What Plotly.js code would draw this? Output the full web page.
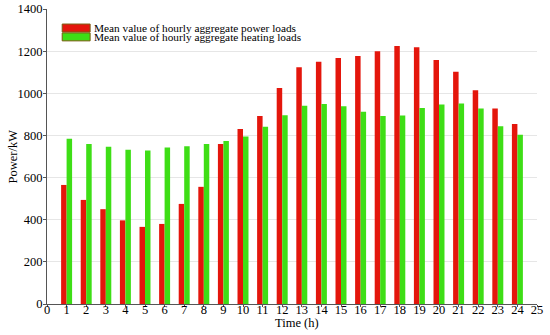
<!DOCTYPE html>
<html><head><meta charset="utf-8">
<script src="https://cdn.plot.ly/plotly-3.0.1.min.js"></script>
<style>html,body{margin:0;padding:0;background:#fff}</style>
</head><body><div id="chart" style="width:550px;height:335px"></div>
<script>
const hours = [1,2,3,4,5,6,7,8,9,10,11,12,13,14,15,16,17,18,19,20,21,22,23,24];
const powerLoads = [565,494,450,397,366,380,475,556,759,830,892,1025,1123,1150,1167,1177,1200,1224,1218,1158,1102,1015,928,854];
const heatingLoads = [784,759,746,732,728,743,749,759,773,795,841,896,941,949,938,912,892,895,930,947,952,928,843,803];
const xTicks = [0,1,2,3,4,5,6,7,8,9,10,11,12,13,14,15,16,17,18,19,20,21,22,23,24,25];
const yTicks = [0,200,400,600,800,1000,1200,1400];
const seriesNames = ['Mean value of hourly aggregate power loads','Mean value of hourly aggregate heating loads'];
const seriesColors = ['rgb(228,22,12)','rgb(62,222,22)'];
const xTitle = 'Time (h)';
const yTitle = 'Power/kW';

const fam = 'Liberation Serif, Times New Roman, serif';
const font = {family:fam, size:12.5, color:'#000'};
const data = [
  {type:'bar', x:hours, y:powerLoads, name:seriesNames[0], marker:{color:seriesColors[0], line:{width:0}}},
  {type:'bar', x:hours, y:heatingLoads, name:seriesNames[1], marker:{color:seriesColors[1], line:{width:0}}}
];
const legY = [[0.949,0.922],[0.919,0.892]];
const shapes = seriesColors.map((c,i)=>({type:'rect', xref:'paper', yref:'paper', x0:0.031, x1:0.088,
  y0:legY[i][1], y1:legY[i][0], fillcolor:c, line:{color:'#7a5a10', width:1}}));
const annotations = seriesNames.map((t,i)=>({xref:'paper', yref:'paper', x:0.094, y:(legY[i][0]+legY[i][1])/2,
  xanchor:'left', yanchor:'middle', text:t, showarrow:false, borderpad:0, font:{family:fam, size:11.3, color:'#000'}}));
annotations.push({xref:'paper', yref:'paper', x:0.51, y:-0.066, xanchor:'center', yanchor:'middle',
  text:xTitle, showarrow:false, borderpad:0, font:font});
annotations.push({xref:'paper', yref:'paper', x:-0.0714, y:0.5, xanchor:'center', yanchor:'middle',
  text:yTitle, textangle:-90, showarrow:false, borderpad:0, font:font});
const layout = {
  width:550, height:335,
  margin:{l:47, r:13, t:9, b:31},
  paper_bgcolor:'#fff', plot_bgcolor:'#fff',
  font:font,
  barmode:'group', bargap:0.44, bargroupgap:0,
  showlegend:false,
  shapes:shapes, annotations:annotations,
  xaxis:{range:[0,25], tickmode:'array', tickvals:xTicks, ticktext:xTicks.map(String),
         showgrid:false, zeroline:false, showline:true, linecolor:'#555', linewidth:1,
         ticks:'outside', ticklen:2, tickcolor:'#555', tickfont:font, ticklabelstandoff:-8,
         automargin:false},
  yaxis:{range:[0,1400], tickmode:'array', tickvals:yTicks, ticktext:yTicks.map(String),
         showgrid:true, gridcolor:'#e6e6e6', gridwidth:1, zeroline:false,
         showline:true, linecolor:'#555', linewidth:1,
         ticks:'outside', ticklen:3, tickcolor:'#555', tickfont:font, ticklabelstandoff:-2,
         automargin:false}
};
Plotly.newPlot('chart', data, layout, {displayModeBar:false, staticPlot:true});
</script></body></html>
